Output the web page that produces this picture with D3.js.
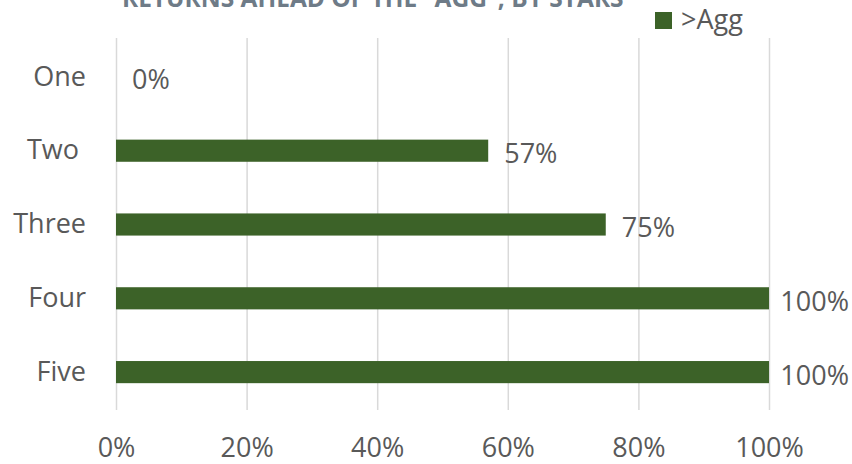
<!DOCTYPE html>
<html lang="en">
<head>
<meta charset="UTF-8">
<title>Returns ahead of the Agg</title>
<style>
  body { margin: 0; background: #fff; }
  text { font-family: "Open Sans", sans-serif; white-space: pre; }
</style>
</head>
<body>
<script src="https://cdn.jsdelivr.net/npm/d3@7/dist/d3.min.js"></script>
<script>
// data
var categories = ["One", "Two ", "Three", "Four", "Five"];
var shareAhead = [0, 0.57, 0.75, 1.00, 1.00];
var xTicks = [0, 0.2, 0.4, 0.6, 0.8, 1.0];
var seriesName = ">Agg";
var title = "RETURNS AHEAD OF THE \u201CAGG\u201D, BY STARS";

var width = 852, height = 464;
var barColor = "#3c6228";
var textColor = "#595959";

var svg = d3.select("body").append("svg")
  .attr("width", width)
  .attr("height", height);

var x = d3.scaleLinear().domain([0, 1]).range([116, 769]);
var y = d3.scaleBand().domain(categories).range([40, 409]).paddingInner(0.7).paddingOuter(0.35);

// title (cut off at the top, as in the source)
svg.append("text")
  .attr("x", 122).attr("y", 7)
  .attr("font-size", 24.5).attr("font-weight", "bold")
  .attr("fill", "#6e7b87")
  .text(title);

// gridlines
svg.append("g").selectAll("line")
  .data(xTicks)
  .join("line")
  .attr("x1", function(d) { return x(d) + 0.5; })
  .attr("x2", function(d) { return x(d) + 0.5; })
  .attr("y1", 38).attr("y2", 410)
  .attr("stroke", "#d9d9d9").attr("stroke-width", 1.5);

// x axis labels
var xAxis = d3.axisBottom(x).tickValues(xTicks).tickFormat(d3.format(".0%")).tickSize(0).tickPadding(0);
var gx = svg.append("g").attr("transform", "translate(0,438)").call(xAxis);
gx.select(".domain").remove();
gx.selectAll("text").attr("font-size", 27).attr("fill", textColor).attr("font-family", "Open Sans, sans-serif");

// y axis labels
var yAxis = d3.axisLeft(y).tickSize(0).tickPadding(0);
var gy = svg.append("g").attr("transform", "translate(86,0)").call(yAxis);
gy.select(".domain").remove();
gy.selectAll("text").attr("font-size", 27).attr("fill", textColor).attr("font-family", "Open Sans, sans-serif");

var data = categories.map(function(c, i) { return { cat: c, v: shareAhead[i] }; });

// bars
svg.append("g").selectAll("rect")
  .data(data)
  .join("rect")
  .attr("x", x(0))
  .attr("y", function(d) { return y(d.cat); })
  .attr("width", function(d) { return x(d.v) - x(0); })
  .attr("height", y.bandwidth())
  .attr("fill", barColor);

// value labels
svg.append("g").selectAll("text")
  .data(data)
  .join("text")
  .attr("x", function(d) { return x(d.v) + 16; })
  .attr("y", function(d) { return y(d.cat) + y.bandwidth() / 2 + 3; })
  .attr("dy", "0.35em")
  .attr("font-size", 27)
  .attr("fill", textColor)
  .text(function(d) { return d3.format(".0%")(d.v); })
  .each(function() {
    var w = this.getComputedTextLength();
    var cx = +d3.select(this).attr("x");
    if (cx + w > width - 3) d3.select(this).attr("x", width - 3 - w);
  });

// legend
var lg = svg.append("g");
lg.append("rect").attr("x", 655).attr("y", 12).attr("width", 17).attr("height", 17).attr("fill", barColor);
lg.append("text").attr("x", 681).attr("y", 20).attr("dy", "0.35em")
  .attr("font-size", 27).attr("fill", textColor).text(seriesName);
</script>
</body>
</html>
